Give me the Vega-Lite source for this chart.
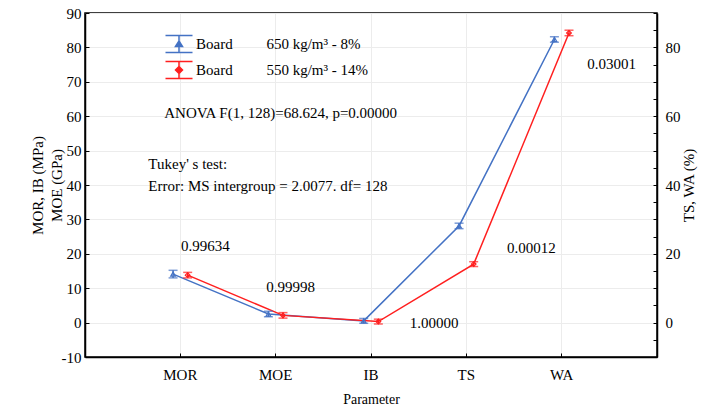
{
"$schema":"https://vega.github.io/schema/vega-lite/v6.json",
"width":572,"height":344,
"autosize":{"type":"none"},
"padding":{"left":85,"top":13,"right":50,"bottom":56},
"background":"white",
"config":{"font":"Liberation Serif","view":{"stroke":"black","strokeWidth":1.5},
 "axis":{"labelColor":"black","titleColor":"black","titleFontWeight":"normal","domainColor":"black","domainWidth":1.5,"tickColor":"black","tickWidth":1,"gridColor":"#ececec","gridWidth":1,"labelFontSize":15,"titleFontSize":15,"labelFont":"Liberation Serif","titleFont":"Liberation Serif","labelOverlap":false},
 "text":{"font":"Liberation Serif","fontSize":15,"color":"black"}},
"datasets":{"means":[
 {"param":"MOR","board":"650 kg/m³ - 8%","mean":14.1,"lo":13.0,"hi":15.2},
 {"param":"MOE","board":"650 kg/m³ - 8%","mean":2.5,"lo":1.7,"hi":3.3},
 {"param":"IB","board":"650 kg/m³ - 8%","mean":0.5,"lo":-0.2,"hi":1.2},
 {"param":"TS","board":"650 kg/m³ - 8%","mean":28.1,"lo":27.3,"hi":28.9},
 {"param":"WA","board":"650 kg/m³ - 8%","mean":82.3,"lo":81.5,"hi":83.1},
 {"param":"MOR","board":"550 kg/m³ - 14%","mean":13.8,"lo":13.0,"hi":14.6},
 {"param":"MOE","board":"550 kg/m³ - 14%","mean":2.1,"lo":1.3,"hi":2.9},
 {"param":"IB","board":"550 kg/m³ - 14%","mean":0.3,"lo":-0.4,"hi":1.0},
 {"param":"TS","board":"550 kg/m³ - 14%","mean":17.0,"lo":16.3,"hi":17.7},
 {"param":"WA","board":"550 kg/m³ - 14%","mean":84.2,"lo":83.4,"hi":85.0}
]},
"layer":[
 {"data":{"name":"means"},"mark":{"type":"rule","opacity":0},
  "encoding":{"y":{"field":"mean","type":"quantitative","scale":{"domain":[-10,90],"nice":false,"zero":false},"title":["MOR, IB (MPa)","MOE (GPa)"],
   "axis":{"orient":"left","values":[-10,0,10,20,30,40,50,60,70,80,90],"labelOverlap":false,"labelExpr":"datum.value < 0 ? '-' + abs(datum.value) : datum.label","grid":true,"tickSize":-4,"labelPadding":8,"titlePadding":-3,"titleLineHeight":19}}}},
 {"layer":[
  {"data":{"name":"means"},"mark":{"type":"line","strokeWidth":1.5},
   "encoding":{
    "x":{"field":"param","type":"nominal","sort":["MOR","MOE","IB","TS","WA"],"scale":{"type":"band","domain":["MOR","MOE","IB","TS","WA"],"paddingInner":0,"paddingOuter":0.5},"title":"Parameter",
      "axis":{"grid":true,"bandPosition":0.5,"tickSize":-4,"labelPadding":14,"labelAngle":0,"titleFontSize":14,"titlePadding":10}},
    "xOffset":{"field":"board","type":"nominal","scale":{"domain":["650 kg/m³ - 8%","550 kg/m³ - 14%"],"range":[33.1,62.3],"paddingOuter":0,"paddingInner":0}},
    "y":{"field":"mean","type":"quantitative","scale":{"domain":[-10,90],"nice":false,"zero":false},"axis":null},
    "color":{"field":"board","type":"nominal","scale":{"domain":["650 kg/m³ - 8%","550 kg/m³ - 14%"],"range":["#4472C4","#FF1F1F"]},
      "legend":{"orient":"none","legendX":83,"legendY":20,"title":null,"symbolSize":400,"symbolStrokeWidth":1.5,"symbolOpacity":1,"symbolFillColor":"transparent","labelFontSize":15,"labelColor":"black","labelFont":"Liberation Serif","labelOffset":6,"labelLimit":0,"rowPadding":2,"padding":0,
      "symbolType":"M-1.35,-0.85H1.35M0,-0.85V0.85M-1.35,0.85H1.35M-0.35,0.25L0,-0.3L0.35,0.25Z",
      "labelExpr":"'Board\u00a0\u00a0\u00a0\u00a0\u00a0\u00a0\u00a0\u00a0\u00a0' + datum.label",
      "encode":{"symbols":{"update":{"shape":{"signal":"datum.value == '650 kg/m³ - 8%' ? 'M-1.35,-0.85H1.35M0,-0.85V0.85M-1.35,0.85H1.35M-0.35,0.25L0,-0.3L0.35,0.25Z' : 'M-1.35,-0.85H1.35M0,-0.85V0.85M-1.35,0.85H1.35M0,-0.35L0.35,0L0,0.35L-0.35,0ZM-0.35,0H0.35'"},"fill":{"value":"transparent"},"strokeWidth":{"value":1.5},"opacity":{"value":1}}}}}}
   }},
  {"data":{"name":"means"},"mark":{"type":"rule","strokeWidth":1.5},
   "encoding":{
    "x":{"field":"param","type":"nominal"},
    "xOffset":{"field":"board","type":"nominal"},
    "y":{"field":"lo","type":"quantitative","axis":null},"y2":{"field":"hi"},
    "color":{"field":"board","type":"nominal"}}},
  {"data":{"name":"means"},"mark":{"type":"tick","size":9,"thickness":1.5},
   "encoding":{
    "x":{"field":"param","type":"nominal"},
    "xOffset":{"field":"board","type":"nominal"},
    "y":{"field":"lo","type":"quantitative","axis":null},
    "color":{"field":"board","type":"nominal"}}},
  {"data":{"name":"means"},"mark":{"type":"tick","size":9,"thickness":1.5},
   "encoding":{
    "x":{"field":"param","type":"nominal"},
    "xOffset":{"field":"board","type":"nominal"},
    "y":{"field":"hi","type":"quantitative","axis":null},
    "color":{"field":"board","type":"nominal"}}},
  {"data":{"name":"means"},"transform":[{"filter":"datum.board == '650 kg/m³ - 8%'"}],"mark":{"type":"point","filled":false,"size":22,"strokeWidth":1.2,"opacity":1,"shape":"triangle-up"},
   "encoding":{
    "x":{"field":"param","type":"nominal"},
    "xOffset":{"field":"board","type":"nominal"},
    "y":{"field":"mean","type":"quantitative","axis":null},
    "color":{"field":"board","type":"nominal"}}},
  {"data":{"name":"means"},"transform":[{"filter":"datum.board == '550 kg/m³ - 14%'"}],"mark":{"type":"point","filled":false,"size":22,"strokeWidth":1.2,"opacity":1,"shape":"diamond"},
   "encoding":{
    "x":{"field":"param","type":"nominal"},
    "xOffset":{"field":"board","type":"nominal"},
    "y":{"field":"mean","type":"quantitative","axis":null},
    "color":{"field":"board","type":"nominal"}}},
  {"data":{"values":[{"param":"MOR","y":22.3,"note":"0.99634"}]},"mark":{"type":"text","dx":25,"fontSize":15},
   "encoding":{"x":{"field":"param","type":"nominal"},"y":{"field":"y","type":"quantitative","axis":null},"text":{"field":"note"}}},
  {"data":{"values":[{"param":"MOE","y":10.4,"note":"0.99998"}]},"mark":{"type":"text","dx":15,"fontSize":15},
   "encoding":{"x":{"field":"param","type":"nominal"},"y":{"field":"y","type":"quantitative","axis":null},"text":{"field":"note"}}},
  {"data":{"values":[{"param":"IB","y":0,"note":"1.00000"}]},"mark":{"type":"text","dx":63,"fontSize":15},
   "encoding":{"x":{"field":"param","type":"nominal"},"y":{"field":"y","type":"quantitative","axis":null},"text":{"field":"note"}}},
  {"data":{"values":[{"param":"TS","y":21.8,"note":"0.00012"}]},"mark":{"type":"text","dx":65,"fontSize":15},
   "encoding":{"x":{"field":"param","type":"nominal"},"y":{"field":"y","type":"quantitative","axis":null},"text":{"field":"note"}}},
  {"data":{"values":[{"param":"WA","y":75.3,"note":"0.03001"}]},"mark":{"type":"text","dx":50,"fontSize":15},
   "encoding":{"x":{"field":"param","type":"nominal"},"y":{"field":"y","type":"quantitative","axis":null},"text":{"field":"note"}}},
  {"data":{"values":[{"param":"MOE","y":61,"note":"ANOVA F(1, 128)=68.624, p=0.00000"}]},"mark":{"type":"text","dx":5,"fontSize":15},
   "encoding":{"x":{"field":"param","type":"nominal"},"y":{"field":"y","type":"quantitative","axis":null},"text":{"field":"note"}}},
  {"data":{"values":[{"param":"MOR","y":46.2,"note":"Tukey' s test:"},{"param":"MOR","y":39.8,"note":"Error: MS intergroup = 2.0077. df= 128"}]},"mark":{"type":"text","dx":-32,"align":"left","fontSize":15},
   "encoding":{"x":{"field":"param","type":"nominal"},"y":{"field":"y","type":"quantitative","axis":null},"text":{"field":"note"}}}
 ]},
 {"data":{"name":"means"},"mark":{"type":"rule","opacity":0},
  "encoding":{"y":{"field":"mean","type":"quantitative","scale":{"domain":[-10,90],"nice":false,"zero":false},"title":"TS, WA (%)",
   "axis":{"orient":"right","values":[-10,-5,0,5,10,15,20,25,30,35,40,45,50,55,60,65,70,75,80,85,90],"labelExpr":"datum.value >= 0 && datum.value <= 80 && datum.value % 20 == 0 ? datum.label : ''","grid":false,"tickSize":-4,"labelPadding":12,"titlePadding":1,"titleAngle":270,"titleBaseline":"top"}}}}
],
"resolve":{"scale":{"y":"independent"}}
}
